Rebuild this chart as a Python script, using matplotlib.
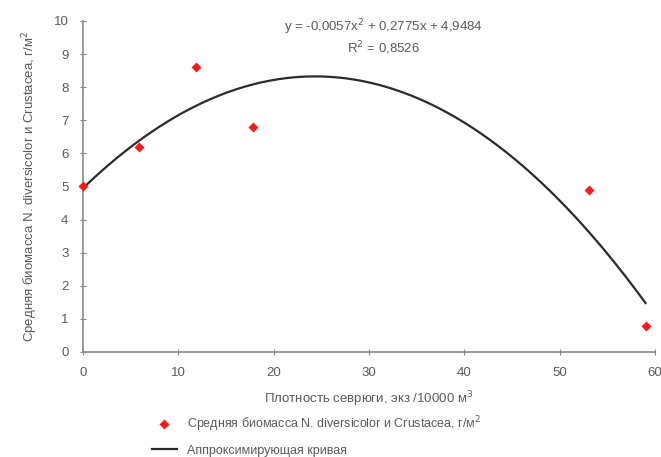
import matplotlib.pyplot as plt
import numpy as np

plt.rcParams['font.family'] = ['Liberation Sans', 'DejaVu Sans']

# sturgeon density and mean biomass
density = [0, 5.9, 11.8, 17.8, 53.1, 59.0]
biomass = [5.0, 6.2, 8.6, 6.8, 4.9, 0.8]

# trend line coefficients, as printed on the chart
coef = [-0.0057, 0.2775, 4.9484]
r2 = 0.8526

grey = '#5a5a5a'

fig = plt.figure(figsize=(6.61, 4.57), dpi=100)
ax = fig.add_axes([0.1256, 0.2298, 0.8654, 0.7243])

xs = np.linspace(0, max(density), 200)
line, = ax.plot(xs, np.polyval(coef, xs), color='#2b2b2b', lw=1.6,
                label='Аппроксимирующая кривая')
pts, = ax.plot(density, biomass, 'D', color='#ff1a1a', ms=5.5, mec='none',
               clip_on=False, zorder=3,
               label='Средняя биомасса N. diversicolor и Crustacea, г/м$^2$')

ax.set_xlim(0, 60)
ax.set_ylim(0, 10)
ax.set_xticks(range(0, 61, 10))
ax.set_yticks(range(0, 11))
for s in ['top', 'right']:
    ax.spines[s].set_visible(False)
for s in ['left', 'bottom']:
    ax.spines[s].set_color('#8a8a8a')
    ax.spines[s].set_linewidth(1.2)
ax.tick_params(colors='#8a8a8a', labelcolor=grey, labelsize=9.5,
               direction='inout', length=5, pad=8)

ax.set_xlabel('Плотность севрюги, экз /10000 м$^3$', color=grey, fontsize=9.5, labelpad=8)
ax.set_ylabel('Средняя биомасса N. diversicolor и Crustacea, г/м$^2$', color=grey,
              fontsize=9.5, labelpad=10)

eq = 'y = -0,0057x$^2$ + 0,2775x + 4,9484\nR$^2$ = 0,8526'
ax.text(0.525, 1.012, eq, transform=ax.transAxes, ha='center', va='top',
        color=grey, fontsize=9.5, linespacing=1.2)

fig.legend(handles=[pts, line], loc='upper left', bbox_to_anchor=(0.222, 0.105),
           frameon=False, fontsize=9, labelcolor=grey, handlelength=2.0,
           borderaxespad=0, labelspacing=0.9)

fig.savefig('out.png', dpi=100)
